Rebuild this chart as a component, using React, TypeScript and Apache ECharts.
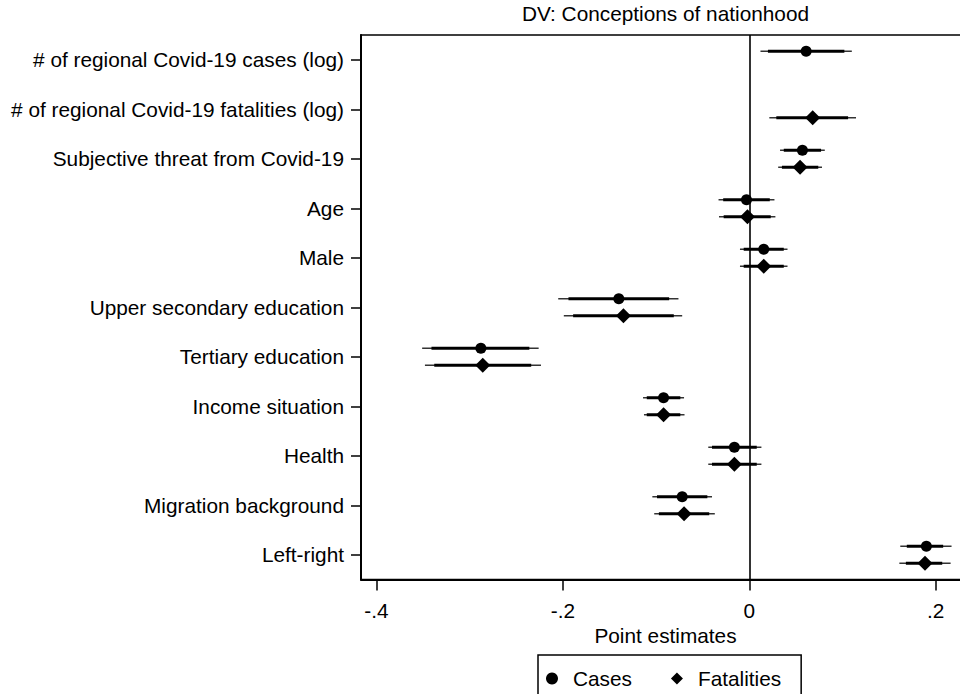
import React, { useEffect, useRef } from "react";
import * as echarts from "echarts";

const categories = [
  "# of regional Covid-19 cases (log)",
  "# of regional Covid-19 fatalities (log)",
  "Subjective threat from Covid-19",
  "Age",
  "Male",
  "Upper secondary education",
  "Tertiary education",
  "Income situation",
  "Health",
  "Migration background",
  "Left-right",
];

// Cases model (null = not in model)
const casesPoint = [0.061, null, 0.057, -0.003, 0.0155, -0.14, -0.288, -0.092, -0.016, -0.072, 0.19];
const casesLo95 = [0.012, null, 0.033, -0.033, -0.01, -0.205, -0.351, -0.114, -0.044, -0.104, 0.162];
const casesHi95 = [0.11, null, 0.081, 0.027, 0.041, -0.076, -0.226, -0.07, 0.013, -0.04, 0.217];
const casesLo90 = [0.02, null, 0.037, -0.028, -0.006, -0.194, -0.341, -0.11, -0.04, -0.099, 0.169];
const casesHi90 = [0.102, null, 0.077, 0.022, 0.037, -0.086, -0.236, -0.074, 0.008, -0.045, 0.208];

// Fatalities model
const fatPoint = [null, 0.068, 0.0545, -0.002, 0.0155, -0.135, -0.286, -0.092, -0.016, -0.07, 0.1885];
const fatLo95 = [null, 0.0215, 0.031, -0.0325, -0.01, -0.199, -0.348, -0.113, -0.044, -0.102, 0.161];
const fatHi95 = [null, 0.1145, 0.078, 0.028, 0.041, -0.072, -0.2235, -0.0695, 0.013, -0.037, 0.216];
const fatLo90 = [null, 0.029, 0.035, -0.0275, -0.006, -0.189, -0.338, -0.11, -0.04, -0.097, 0.168];
const fatHi90 = [null, 0.106, 0.074, 0.023, 0.037, -0.081, -0.234, -0.074, 0.008, -0.043, 0.207];

const xTicks = [-0.4, -0.2, 0, 0.2];
const xTickLabels = ["-.4", "-.2", "0", ".2"];

const FONT = "'Liberation Sans', Arial, Helvetica, sans-serif";
const FS = 20.8;

function ciData(pt: (number | null)[], lo95: (number | null)[], hi95: (number | null)[], lo90: (number | null)[], hi90: (number | null)[]) {
  const out: number[][] = [];
  pt.forEach((p, i) => {
    if (p === null) return;
    out.push([i, lo95[i] as number, hi95[i] as number, lo90[i] as number, hi90[i] as number]);
  });
  return out;
}
function ptData(pt: (number | null)[]) {
  const out: number[][] = [];
  pt.forEach((p, i) => {
    if (p === null) return;
    out.push([p, i]);
  });
  return out;
}

function makeRender(offset: number) {
  return (params: any, api: any) => {
    const cat = api.value(0);
    const a = api.coord([api.value(1), cat]);
    const b = api.coord([api.value(2), cat]);
    const c = api.coord([api.value(3), cat]);
    const d = api.coord([api.value(4), cat]);
    const y = a[1] + offset;
    return {
      type: "group",
      children: [
        { type: "line", shape: { x1: a[0], y1: y, x2: b[0], y2: y }, style: { stroke: "#333", lineWidth: 1.3 } },
        { type: "line", shape: { x1: c[0], y1: y, x2: d[0], y2: y }, style: { stroke: "#000", lineWidth: 3 } },
      ],
    };
  };
}

export default function App() {
  const ref = useRef<HTMLDivElement>(null);
  useEffect(() => {
    document.body.style.margin = "0";
    document.body.style.overflow = "hidden";
    const chart = echarts.init(ref.current!, undefined, { renderer: "svg" });
    const OFF = 8.5;
    chart.setOption({
      animation: false,
      backgroundColor: "#fff",
      textStyle: { fontFamily: FONT },
      graphic: [
        {
          type: "text",
          x: 665.5,
          y: 13,
          style: {
            text: "DV: Conceptions of nationhood",
            font: `${FS}px ${FONT}`,
            fill: "#000",
            textAlign: "center",
            textVerticalAlign: "middle",
            verticalAlign: "middle",
          },
        },
      ],
      grid: {
        left: 361,
        top: 35,
        right: 0,
        bottom: 114.5,
        show: true,
        borderColor: "#000",
        borderWidth: 1.5,
        containLabel: false,
      },
      legend: {
        left: 538,
        top: 655,
        orient: "horizontal",
        padding: [13, 20, 14, 8],
        itemGap: 39,
        itemWidth: 12,
        itemHeight: 12,
        borderColor: "#000",
        borderWidth: 1.5,
        textStyle: { fontSize: FS, color: "#000", fontFamily: FONT, padding: [0, 0, 0, 10] },
        data: [
          { name: "Cases", icon: "circle", itemStyle: { color: "#000", opacity: 1 } },
          { name: "Fatalities", icon: "diamond", itemStyle: { color: "#000", opacity: 1 } },
        ],
      },
      xAxis: {
        type: "value",
        min: -0.4166,
        max: 0.2368,
        splitLine: { show: false },
        axisLine: { show: true, onZero: false, lineStyle: { color: "#000", width: 2 } },
        axisTick: { show: true, length: 11, customValues: xTicks, lineStyle: { color: "#000", width: 1.5 } },
        axisLabel: {
          customValues: xTicks,
          margin: 20,
          fontSize: FS,
          color: "#000",
          fontFamily: FONT,
          formatter: (v: number) => {
            const i = xTicks.findIndex((t) => Math.abs(t - v) < 1e-9);
            return i >= 0 ? xTickLabels[i] : "";
          },
        },
        name: "Point estimates",
        nameLocation: "middle",
        nameGap: 38,
        nameTextStyle: { fontSize: FS, color: "#000", fontFamily: FONT, verticalAlign: "top" },
      },
      yAxis: {
        type: "category",
        data: categories,
        inverse: true,
        splitLine: { show: false },
        axisLine: { show: true, onZero: false, lineStyle: { color: "#000", width: 2 } },
        axisTick: { show: true, alignWithLabel: true, length: 10, lineStyle: { color: "#000", width: 1.5 } },
        axisLabel: { margin: 17, fontSize: FS, color: "#000", fontFamily: FONT, interval: 0 },
      },
      series: [
        {
          name: "Cases CI",
          type: "custom",
          renderItem: makeRender(-OFF),
          encode: { y: 0, x: [1, 2, 3, 4] },
          data: ciData(casesPoint, casesLo95, casesHi95, casesLo90, casesHi90),
          z: 2,
          silent: true,
        },
        {
          name: "Fatalities CI",
          type: "custom",
          renderItem: makeRender(OFF),
          encode: { y: 0, x: [1, 2, 3, 4] },
          data: ciData(fatPoint, fatLo95, fatHi95, fatLo90, fatHi90),
          z: 2,
          silent: true,
        },
        {
          name: "Cases",
          type: "scatter",
          symbol: "circle",
          symbolSize: 11,
          symbolOffset: [0, -OFF],
          itemStyle: { color: "#000", opacity: 1 },
          data: ptData(casesPoint),
          z: 3,
          markLine: {
            silent: true,
            symbol: "none",
            label: { show: false },
            lineStyle: { color: "#000", width: 1.6, type: "solid", opacity: 1 },
            data: [{ xAxis: 0 }],
            z: 1,
          },
        },
        {
          name: "Fatalities",
          type: "scatter",
          symbol: "diamond",
          symbolSize: 15,
          symbolOffset: [0, OFF],
          itemStyle: { color: "#000", opacity: 1 },
          data: ptData(fatPoint),
          z: 3,
        },
      ],
    });
    return () => chart.dispose();
  }, []);
  return <div ref={ref} style={{ width: 970, height: 694 }} />;
}
